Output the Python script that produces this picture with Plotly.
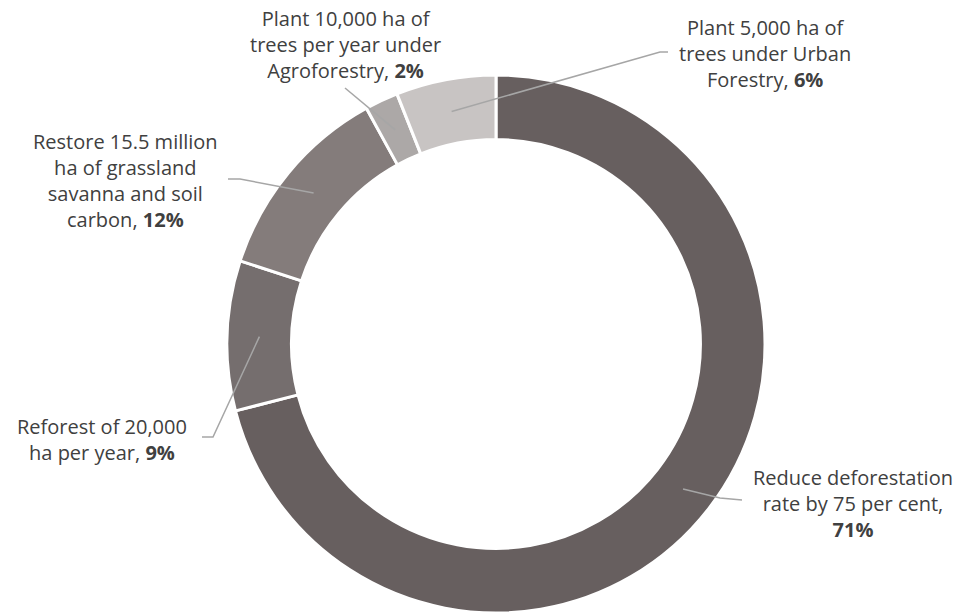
import math
import plotly.graph_objects as go

W, H = 960, 615

labels = [
    "Reduce deforestation rate by 75 per cent",
    "Reforest of 20,000 ha per year",
    "Restore 15.5 million ha of grassland savanna and soil carbon",
    "Plant 10,000 ha of trees per year under Agroforestry",
    "Plant 5,000 ha of trees under Urban Forestry",
]
values = [71, 9, 12, 2, 6]
colors = ["#675F5F", "#756E6E", "#847C7B", "#ACA8A7", "#C8C4C3"]

label_texts = [
    "Reduce deforestation<br>rate by 75 per cent,<br><b>71%</b>",
    "Reforest of 20,000<br>ha per year, <b>9%</b>",
    "Restore 15.5 million<br>ha of grassland<br>savanna and soil<br>carbon, <b>12%</b>",
    "Plant 10,000 ha of<br>trees per year under<br>Agroforestry, <b>2%</b>",
    "Plant 5,000 ha of<br>trees under Urban<br>Forestry, <b>6%</b>",
]
# label text centres (pixels) and leader-line elbow points
label_pos = [(853, 503), (102, 439), (125, 180), (345, 45), (765, 53)]
elbows = [[(720, 498), (742, 500)],
          [(213, 437), (202, 437)],
          [(240, 179), (228, 179)],
          [(345, 88)],
          [(660, 52), (668, 52)]]

# pie geometry (pixels)
cx, cy, R = 496, 344, 269
hole = 0.76

fig = go.Figure(go.Pie(
    labels=labels, values=values, sort=False, direction="clockwise", rotation=0,
    hole=hole, textinfo="none", hoverinfo="label+percent",
    marker=dict(colors=colors, line=dict(color="white", width=3)),
    domain=dict(x=[(cx - R) / W, (cx + R) / W], y=[(H - cy - R) / H, (H - cy + R) / H]),
    showlegend=False,
))

def px(x, y):
    return x / W, 1 - y / H

total = sum(values)
cum = 0
rmid = R * (1 + hole) / 2
for i, v in enumerate(values):
    mid = (cum + v / 2) / total * 2 * math.pi
    cum += v
    ax = cx + rmid * math.sin(mid)
    ay = cy - rmid * math.cos(mid)
    pts = [(ax, ay)] + elbows[i]
    path = "M " + " L ".join(f"{px(x, y)[0]:.5f},{px(x, y)[1]:.5f}" for x, y in pts)
    fig.add_shape(type="path", path=path, xref="paper", yref="paper",
                  line=dict(color="#A6A6A6", width=1.5))
    lx, ly = px(*label_pos[i])
    fig.add_annotation(x=lx, y=ly, xref="paper", yref="paper", text=label_texts[i],
                       showarrow=False, align="center", xanchor="center", yanchor="middle",
                       font=dict(family="Open Sans, sans-serif", size=20, color="#404040"))

fig.update_layout(width=W, height=H, margin=dict(l=0, r=0, t=0, b=0),
                  paper_bgcolor="white", plot_bgcolor="white")
fig.write_html("out.html")
